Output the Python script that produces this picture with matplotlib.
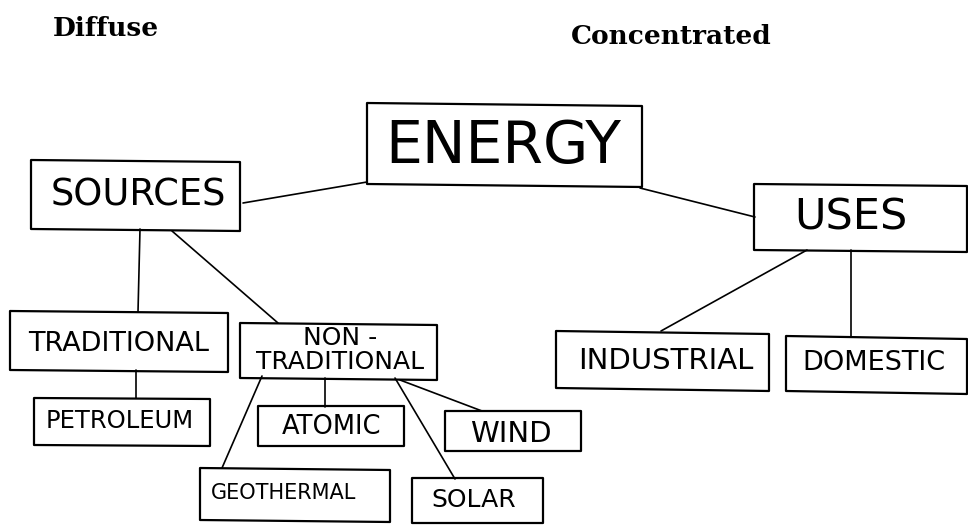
import matplotlib
matplotlib.use("Agg")
import matplotlib.pyplot as plt
from matplotlib.patches import Polygon

# ---- data ----
titles = ["Diffuse", "Concentrated"]
node_labels = ["ENERGY", "SOURCES", "USES", "TRADITIONAL", "NON -\nTRADITIONAL",
               "PETROLEUM", "ATOMIC", "WIND", "GEOTHERMAL", "SOLAR",
               "INDUSTRIAL", "DOMESTIC"]

# ---- layout (pixel coordinates, y downward) ----
# box: (x_left, y_top, x_right, y_bottom, tilt) tilt = right side lower by px
boxes = [
    (367, 103, 642, 184, 3),
    (31, 160, 240, 229, 2),
    (754, 184, 967, 250, 2),
    (10, 311, 228, 370, 2),
    (240, 323, 437, 378, 2),
    (34, 398, 210, 445, 1),
    (258, 406, 404, 446, 0),
    (445, 411, 581, 451, 0),
    (200, 468, 390, 520, 2),
    (412, 478, 543, 523, 0),
    (556, 331, 769, 388, 3),
    (786, 336, 967, 391, 3),
]
text_pos = [(503, 146), (138, 195), (851, 218), (119, 344), (340, 350),
            (120, 421), (332, 427), (511, 434), (284, 493), (474, 500),
            (666, 361), (874, 363)]
text_size = [42, 26.5, 31, 19.5, 18, 17.5, 18.5, 21, 15, 18, 21, 19.5]
edges = [((243, 203), (367, 182)), ((640, 188), (755, 217)),
         ((140, 229), (138, 312)), ((172, 231), (278, 323)),
         ((136, 370), (136, 398)),
         ((262, 376), (222, 468)), ((325, 378), (325, 407)),
         ((395, 378), (455, 479)), ((400, 380), (482, 411)),
         ((807, 250), (661, 331)), ((851, 250), (851, 337))]

W, H = 968, 526
fig = plt.figure(figsize=(W / 100, H / 100), dpi=100)
ax = fig.add_axes([0, 0, 1, 1])
ax.set_xlim(0, W)
ax.set_ylim(H, 0)
ax.axis("off")

hand = ["DejaVu Sans"]

for (x0, y0, x1, y1, t) in boxes:
    poly = Polygon([(x0, y0), (x1, y0 + t), (x1, y1 + t), (x0, y1)], closed=True,
                   fill=False, edgecolor="black", linewidth=1.6, joinstyle="round")
    ax.add_patch(poly)

for (p, q) in edges:
    ax.plot([p[0], q[0]], [p[1], q[1]], color="black", linewidth=1.2,
            solid_capstyle="round")

for lab, (x, y), s in zip(node_labels, text_pos, text_size):
    ax.text(x, y, lab, ha="center", va="center", fontsize=s, family=hand,
            fontweight="normal", linespacing=1.05)

ax.text(106, 28, titles[0], ha="center", va="center", fontsize=19,
        family="DejaVu Serif", fontweight="bold")
ax.text(671, 36, titles[1], ha="center", va="center", fontsize=19,
        family="DejaVu Serif", fontweight="bold")

fig.savefig("out.png", dpi=100)
